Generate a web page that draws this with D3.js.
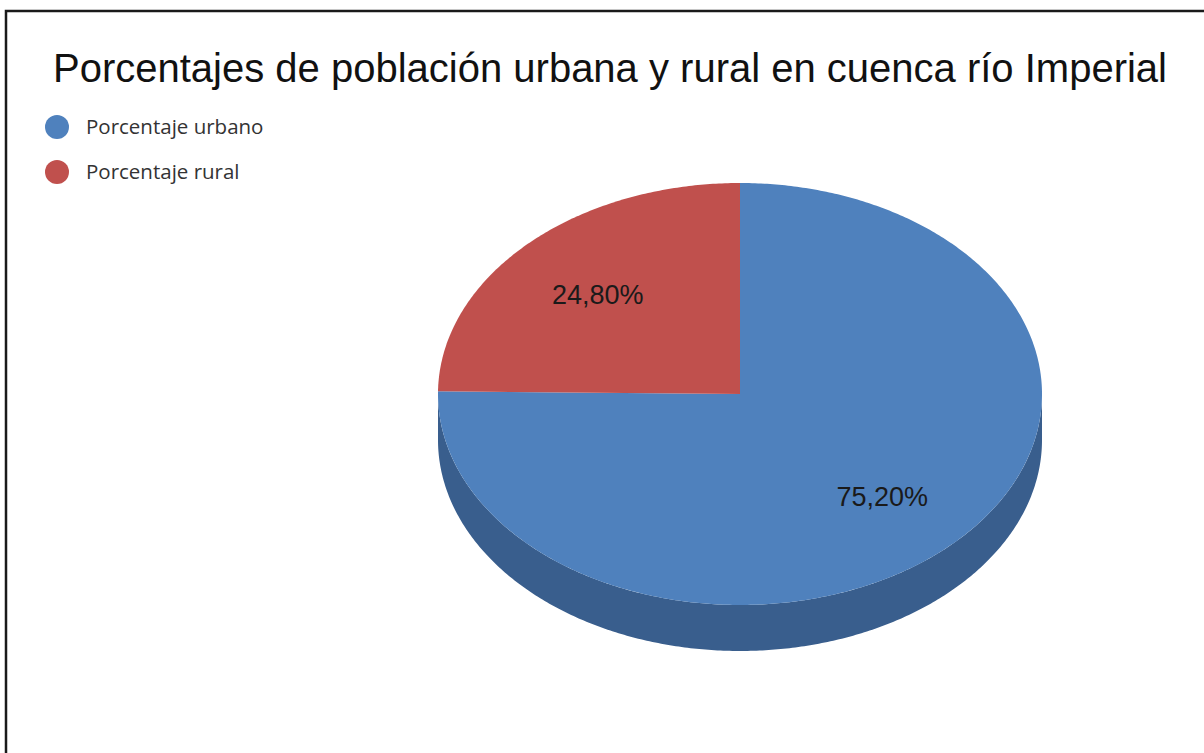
<!DOCTYPE html>
<html><head><meta charset="utf-8">
<script src="https://cdn.jsdelivr.net/npm/d3@7"></script>
<style>body{margin:0;background:#fff}svg{display:block}</style>
</head><body>
<svg id="c" width="1204" height="753"></svg>
<script>
const title = "Porcentajes de población urbana y rural en cuenca río Imperial";
const categories = ["Porcentaje urbano", "Porcentaje rural"];
const values = [75.2, 24.8];
const labels = ["75,20%", "24,80%"];
const colors = ["#4F81BD", "#C0504D"];
const sideColors = ["#395E8D", "#8E3B39"];

const svg = d3.select("#c");
// frame
svg.append("rect").attr("x", 6).attr("y", 11).attr("width", 1300).attr("height", 900)
  .attr("fill", "none").attr("stroke", "#1a1a1a").attr("stroke-width", 2.5);

svg.append("text").attr("x", 610).attr("y", 82).attr("text-anchor", "middle")
  .attr("font-family", "Liberation Sans, Arial, sans-serif").attr("font-size", 40)
  .attr("fill", "#111").text(title);

// legend
const leg = svg.append("g");
categories.forEach((c, i) => {
  const y = 127 + i * 45;
  leg.append("circle").attr("cx", 57).attr("cy", y).attr("r", 12).attr("fill", colors[i]);
  leg.append("text").attr("x", 86).attr("y", y + 7).attr("font-family", "Open Sans, sans-serif")
    .attr("font-size", 20.5).attr("fill", "#333").text(c);
});

const cx = 740, cy = 394, rx = 302, ry = 211, depth = 46;
const pie = d3.pie().sort(null).value(d => d)(values);
const pt = (a, dy = 0) => [cx + rx * Math.sin(a), cy - ry * Math.cos(a) + dy];
const line = d3.line();
const arcPts = (a0, a1, dy) => {
  const n = Math.max(2, Math.ceil((a1 - a0) / 0.01));
  return d3.range(n + 1).map(k => pt(a0 + (a1 - a0) * k / n, dy));
};

// side faces (visible where angle in [PI/2, 3PI/2])
pie.forEach((p, i) => {
  const a0 = Math.max(p.startAngle, Math.PI / 2), a1 = Math.min(p.endAngle, 3 * Math.PI / 2);
  if (a1 <= a0) return;
  const top = arcPts(a0, a1, 0), bot = arcPts(a0, a1, depth).reverse();
  svg.append("path").attr("d", line(top.concat(bot)) + "Z").attr("fill", sideColors[i]);
});

// top faces
pie.forEach((p, i) => {
  const pts = [[cx, cy]].concat(arcPts(p.startAngle, p.endAngle, 0));
  svg.append("path").attr("d", line(pts) + "Z").attr("fill", colors[i]);
});

// labels
pie.forEach((p, i) => {
  const m = (p.startAngle + p.endAngle) / 2;
  svg.append("text").attr("x", cx + rx * 0.67 * Math.sin(m)).attr("y", cy - ry * 0.67 * Math.cos(m) + 11)
    .attr("text-anchor", "middle").attr("font-family", "Liberation Sans, Arial, sans-serif")
    .attr("font-size", 27).attr("fill", "#1a1a1a").text(labels[i]);
});
</script>
</body></html>
